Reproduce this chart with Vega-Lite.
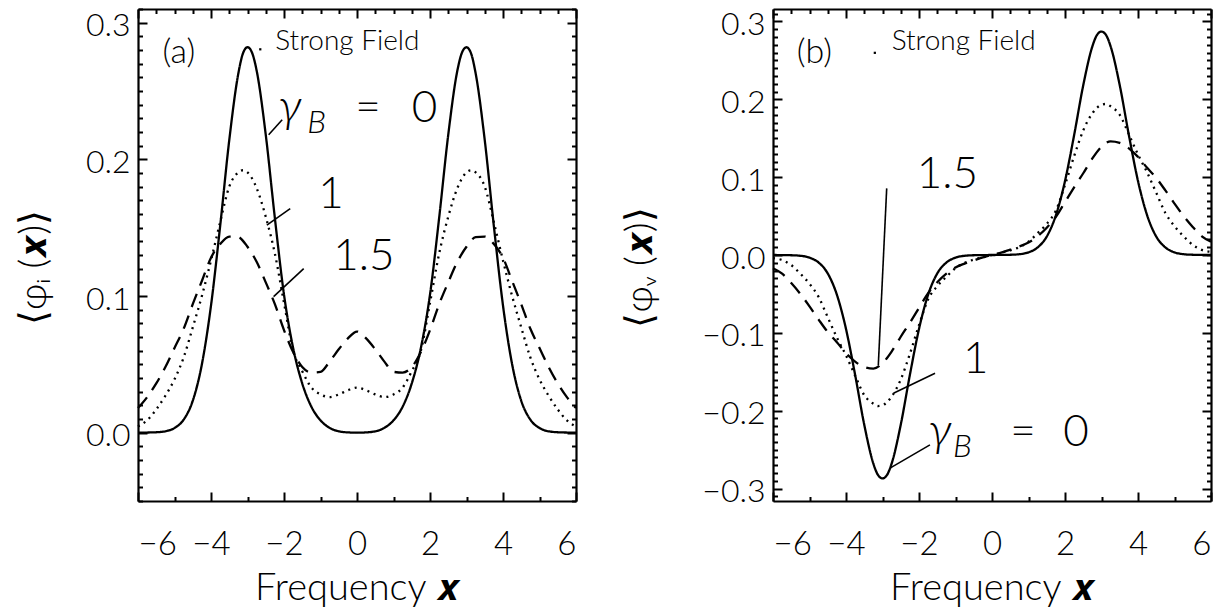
{
  "$schema": "https://vega.github.io/schema/vega-lite/v6.json",
  "padding": {"left": 15, "top": 8, "right": 5, "bottom": 0},
  "background": "white",
  "bounds": "flush",
  "spacing": 197,
  "config": {
    "font": "Lato",
    "view": {"stroke": null},
    "axis": {"grid": false, "domainColor": "black", "domainWidth": 2.2, "tickColor": "black", "tickWidth": 2, "labelColor": "black", "labelFont": "Lato", "labelFontSize": 31, "labelFontWeight": 300, "titleColor": "black", "titleFont": "Lato", "titleFontWeight": 300}
  },
  "datasets": {
    "a": [
      {"x":-6,"g":"0","v":0},{"x":-5.75,"g":"0","v":0.0001},{"x":-5.5,"g":"0","v":0.0003},{"x":-5.25,"g":"0","v":0.001},{"x":-5,"g":"0","v":0.0034},{"x":-4.75,"g":"0","v":0.0095},{"x":-4.5,"g":"0","v":0.0233},{"x":-4.25,"g":"0","v":0.05},{"x":-4,"g":"0","v":0.093},{"x":-3.75,"g":"0","v":0.151},{"x":-3.5,"g":"0","v":0.214},{"x":-3.25,"g":"0","v":0.263},{"x":-3.125,"g":"0","v":0.2775},{"x":-3,"g":"0","v":0.282},{"x":-2.875,"g":"0","v":0.278},{"x":-2.75,"g":"0","v":0.265},{"x":-2.5,"g":"0","v":0.218},{"x":-2.25,"g":"0","v":0.157},{"x":-2,"g":"0","v":0.101},{"x":-1.75,"g":"0","v":0.062},{"x":-1.5,"g":"0","v":0.036},{"x":-1.25,"g":"0","v":0.019},{"x":-1,"g":"0","v":0.009},{"x":-0.75,"g":"0","v":0.0035},{"x":-0.5,"g":"0","v":0.001},{"x":-0.25,"g":"0","v":0.0002},{"x":0,"g":"0","v":0},
      {"x":0.25,"g":"0","v":0.0002},{"x":0.5,"g":"0","v":0.001},{"x":0.75,"g":"0","v":0.0035},{"x":1,"g":"0","v":0.009},{"x":1.25,"g":"0","v":0.019},{"x":1.5,"g":"0","v":0.036},{"x":1.75,"g":"0","v":0.062},{"x":2,"g":"0","v":0.101},{"x":2.25,"g":"0","v":0.157},{"x":2.5,"g":"0","v":0.218},{"x":2.75,"g":"0","v":0.265},{"x":2.875,"g":"0","v":0.278},{"x":3,"g":"0","v":0.282},{"x":3.125,"g":"0","v":0.2775},{"x":3.25,"g":"0","v":0.263},{"x":3.5,"g":"0","v":0.214},{"x":3.75,"g":"0","v":0.151},{"x":4,"g":"0","v":0.093},{"x":4.25,"g":"0","v":0.05},{"x":4.5,"g":"0","v":0.0233},{"x":4.75,"g":"0","v":0.0095},{"x":5,"g":"0","v":0.0034},{"x":5.25,"g":"0","v":0.001},{"x":5.5,"g":"0","v":0.0003},{"x":5.75,"g":"0","v":0.0001},{"x":6,"g":"0","v":0},
      {"x":-6,"g":"1","v":0.0045},{"x":-5.75,"g":"1","v":0.009},{"x":-5.5,"g":"1","v":0.017},{"x":-5.25,"g":"1","v":0.027},{"x":-5,"g":"1","v":0.039},{"x":-4.75,"g":"1","v":0.055},{"x":-4.5,"g":"1","v":0.077},{"x":-4.25,"g":"1","v":0.1},{"x":-4,"g":"1","v":0.126},{"x":-3.75,"g":"1","v":0.154},{"x":-3.5,"g":"1","v":0.18},{"x":-3.25,"g":"1","v":0.1905},{"x":-3.125,"g":"1","v":0.192},{"x":-3,"g":"1","v":0.1905},{"x":-2.75,"g":"1","v":0.179},{"x":-2.5,"g":"1","v":0.158},{"x":-2.25,"g":"1","v":0.131},{"x":-2,"g":"1","v":0.095},{"x":-1.75,"g":"1","v":0.06},{"x":-1.5,"g":"1","v":0.045},{"x":-1.25,"g":"1","v":0.033},{"x":-1,"g":"1","v":0.028},{"x":-0.75,"g":"1","v":0.026},{"x":-0.5,"g":"1","v":0.028},{"x":-0.25,"g":"1","v":0.031},{"x":0,"g":"1","v":0.033},
      {"x":0.25,"g":"1","v":0.031},{"x":0.5,"g":"1","v":0.028},{"x":0.75,"g":"1","v":0.026},{"x":1,"g":"1","v":0.028},{"x":1.25,"g":"1","v":0.033},{"x":1.5,"g":"1","v":0.045},{"x":1.75,"g":"1","v":0.06},{"x":2,"g":"1","v":0.095},{"x":2.25,"g":"1","v":0.131},{"x":2.5,"g":"1","v":0.158},{"x":2.75,"g":"1","v":0.179},{"x":3,"g":"1","v":0.1905},{"x":3.125,"g":"1","v":0.192},{"x":3.25,"g":"1","v":0.1905},{"x":3.5,"g":"1","v":0.18},{"x":3.75,"g":"1","v":0.154},{"x":4,"g":"1","v":0.126},{"x":4.25,"g":"1","v":0.1},{"x":4.5,"g":"1","v":0.077},{"x":4.75,"g":"1","v":0.055},{"x":5,"g":"1","v":0.039},{"x":5.25,"g":"1","v":0.027},{"x":5.5,"g":"1","v":0.017},{"x":5.75,"g":"1","v":0.009},{"x":6,"g":"1","v":0.0045},
      {"x":-6,"g":"1.5","v":0.018},{"x":-5.75,"g":"1.5","v":0.026},{"x":-5.5,"g":"1.5","v":0.036},{"x":-5.25,"g":"1.5","v":0.048},{"x":-5,"g":"1.5","v":0.062},{"x":-4.75,"g":"1.5","v":0.076},{"x":-4.5,"g":"1.5","v":0.094},{"x":-4.25,"g":"1.5","v":0.111},{"x":-4,"g":"1.5","v":0.128},{"x":-3.75,"g":"1.5","v":0.138},{"x":-3.5,"g":"1.5","v":0.1435},{"x":-3.25,"g":"1.5","v":0.143},{"x":-3,"g":"1.5","v":0.136},{"x":-2.75,"g":"1.5","v":0.125},{"x":-2.5,"g":"1.5","v":0.11},{"x":-2.25,"g":"1.5","v":0.094},{"x":-2,"g":"1.5","v":0.075},{"x":-1.75,"g":"1.5","v":0.059},{"x":-1.5,"g":"1.5","v":0.048},{"x":-1.25,"g":"1.5","v":0.044},{"x":-1,"g":"1.5","v":0.0445},{"x":-0.75,"g":"1.5","v":0.052},{"x":-0.5,"g":"1.5","v":0.061},{"x":-0.25,"g":"1.5","v":0.069},{"x":0,"g":"1.5","v":0.074},
      {"x":0.25,"g":"1.5","v":0.069},{"x":0.5,"g":"1.5","v":0.061},{"x":0.75,"g":"1.5","v":0.052},{"x":1,"g":"1.5","v":0.0445},{"x":1.25,"g":"1.5","v":0.044},{"x":1.5,"g":"1.5","v":0.048},{"x":1.75,"g":"1.5","v":0.059},{"x":2,"g":"1.5","v":0.075},{"x":2.25,"g":"1.5","v":0.094},{"x":2.5,"g":"1.5","v":0.11},{"x":2.75,"g":"1.5","v":0.125},{"x":3,"g":"1.5","v":0.136},{"x":3.25,"g":"1.5","v":0.143},{"x":3.5,"g":"1.5","v":0.1435},{"x":3.75,"g":"1.5","v":0.138},{"x":4,"g":"1.5","v":0.128},{"x":4.25,"g":"1.5","v":0.111},{"x":4.5,"g":"1.5","v":0.094},{"x":4.75,"g":"1.5","v":0.076},{"x":5,"g":"1.5","v":0.062},{"x":5.25,"g":"1.5","v":0.048},{"x":5.5,"g":"1.5","v":0.036},{"x":5.75,"g":"1.5","v":0.026},{"x":6,"g":"1.5","v":0.018}
    ],
    "b": [
      {"x":-6,"g":"0","v":0},{"x":-5.75,"g":"0","v":-0.0001},{"x":-5.5,"g":"0","v":-0.0003},{"x":-5.25,"g":"0","v":-0.001},{"x":-5,"g":"0","v":-0.0034},{"x":-4.75,"g":"0","v":-0.0097},{"x":-4.5,"g":"0","v":-0.0237},{"x":-4.25,"g":"0","v":-0.051},{"x":-4,"g":"0","v":-0.095},{"x":-3.75,"g":"0","v":-0.154},{"x":-3.5,"g":"0","v":-0.218},{"x":-3.25,"g":"0","v":-0.268},{"x":-3.125,"g":"0","v":-0.2825},{"x":-3,"g":"0","v":-0.287},{"x":-2.875,"g":"0","v":-0.2825},{"x":-2.75,"g":"0","v":-0.268},{"x":-2.5,"g":"0","v":-0.218},{"x":-2.25,"g":"0","v":-0.154},{"x":-2,"g":"0","v":-0.095},{"x":-1.75,"g":"0","v":-0.051},{"x":-1.5,"g":"0","v":-0.0237},{"x":-1.25,"g":"0","v":-0.0097},{"x":-1,"g":"0","v":-0.0034},{"x":-0.75,"g":"0","v":-0.001},{"x":-0.5,"g":"0","v":-0.0003},{"x":-0.25,"g":"0","v":-0.0001},{"x":0,"g":"0","v":0},
      {"x":0.25,"g":"0","v":0.0001},{"x":0.5,"g":"0","v":0.0003},{"x":0.75,"g":"0","v":0.001},{"x":1,"g":"0","v":0.0034},{"x":1.25,"g":"0","v":0.0097},{"x":1.5,"g":"0","v":0.0237},{"x":1.75,"g":"0","v":0.051},{"x":2,"g":"0","v":0.095},{"x":2.25,"g":"0","v":0.154},{"x":2.5,"g":"0","v":0.218},{"x":2.75,"g":"0","v":0.268},{"x":2.875,"g":"0","v":0.2825},{"x":3,"g":"0","v":0.287},{"x":3.125,"g":"0","v":0.2825},{"x":3.25,"g":"0","v":0.268},{"x":3.5,"g":"0","v":0.218},{"x":3.75,"g":"0","v":0.154},{"x":4,"g":"0","v":0.095},{"x":4.25,"g":"0","v":0.051},{"x":4.5,"g":"0","v":0.0237},{"x":4.75,"g":"0","v":0.0097},{"x":5,"g":"0","v":0.0034},{"x":5.25,"g":"0","v":0.001},{"x":5.5,"g":"0","v":0.0003},{"x":5.75,"g":"0","v":0.0001},{"x":6,"g":"0","v":0},
      {"x":-6,"g":"1","v":-0.004},{"x":-5.75,"g":"1","v":-0.0065},{"x":-5.5,"g":"1","v":-0.013},{"x":-5.25,"g":"1","v":-0.024},{"x":-5,"g":"1","v":-0.037},{"x":-4.75,"g":"1","v":-0.054},{"x":-4.5,"g":"1","v":-0.08},{"x":-4.25,"g":"1","v":-0.106},{"x":-4,"g":"1","v":-0.129},{"x":-3.75,"g":"1","v":-0.155},{"x":-3.5,"g":"1","v":-0.18},{"x":-3.25,"g":"1","v":-0.191},{"x":-3.125,"g":"1","v":-0.194},{"x":-3,"g":"1","v":-0.193},{"x":-2.75,"g":"1","v":-0.182},{"x":-2.5,"g":"1","v":-0.16},{"x":-2.25,"g":"1","v":-0.127},{"x":-2,"g":"1","v":-0.09},{"x":-1.75,"g":"1","v":-0.057},{"x":-1.5,"g":"1","v":-0.04},{"x":-1.25,"g":"1","v":-0.028},{"x":-1,"g":"1","v":-0.017},{"x":-0.75,"g":"1","v":-0.01},{"x":-0.5,"g":"1","v":-0.006},{"x":-0.25,"g":"1","v":-0.003},{"x":0,"g":"1","v":0},
      {"x":0.25,"g":"1","v":0.003},{"x":0.5,"g":"1","v":0.006},{"x":0.75,"g":"1","v":0.01},{"x":1,"g":"1","v":0.017},{"x":1.25,"g":"1","v":0.028},{"x":1.5,"g":"1","v":0.04},{"x":1.75,"g":"1","v":0.057},{"x":2,"g":"1","v":0.09},{"x":2.25,"g":"1","v":0.127},{"x":2.5,"g":"1","v":0.16},{"x":2.75,"g":"1","v":0.182},{"x":3,"g":"1","v":0.193},{"x":3.125,"g":"1","v":0.194},{"x":3.25,"g":"1","v":0.191},{"x":3.5,"g":"1","v":0.18},{"x":3.75,"g":"1","v":0.155},{"x":4,"g":"1","v":0.129},{"x":4.25,"g":"1","v":0.106},{"x":4.5,"g":"1","v":0.08},{"x":4.75,"g":"1","v":0.054},{"x":5,"g":"1","v":0.037},{"x":5.25,"g":"1","v":0.024},{"x":5.5,"g":"1","v":0.013},{"x":5.75,"g":"1","v":0.0065},{"x":6,"g":"1","v":0.004},
      {"x":-6,"g":"1.5","v":-0.017},{"x":-5.75,"g":"1.5","v":-0.024},{"x":-5.5,"g":"1.5","v":-0.036},{"x":-5.25,"g":"1.5","v":-0.05},{"x":-5,"g":"1.5","v":-0.066},{"x":-4.75,"g":"1.5","v":-0.083},{"x":-4.5,"g":"1.5","v":-0.099},{"x":-4.25,"g":"1.5","v":-0.112},{"x":-4,"g":"1.5","v":-0.126},{"x":-3.75,"g":"1.5","v":-0.137},{"x":-3.5,"g":"1.5","v":-0.144},{"x":-3.25,"g":"1.5","v":-0.146},{"x":-3,"g":"1.5","v":-0.139},{"x":-2.75,"g":"1.5","v":-0.124},{"x":-2.5,"g":"1.5","v":-0.105},{"x":-2.25,"g":"1.5","v":-0.087},{"x":-2,"g":"1.5","v":-0.068},{"x":-1.75,"g":"1.5","v":-0.049},{"x":-1.5,"g":"1.5","v":-0.035},{"x":-1.25,"g":"1.5","v":-0.024},{"x":-1,"g":"1.5","v":-0.016},{"x":-0.75,"g":"1.5","v":-0.011},{"x":-0.5,"g":"1.5","v":-0.007},{"x":-0.25,"g":"1.5","v":-0.003},{"x":0,"g":"1.5","v":0},
      {"x":0.25,"g":"1.5","v":0.003},{"x":0.5,"g":"1.5","v":0.007},{"x":0.75,"g":"1.5","v":0.011},{"x":1,"g":"1.5","v":0.016},{"x":1.25,"g":"1.5","v":0.024},{"x":1.5,"g":"1.5","v":0.035},{"x":1.75,"g":"1.5","v":0.049},{"x":2,"g":"1.5","v":0.068},{"x":2.25,"g":"1.5","v":0.087},{"x":2.5,"g":"1.5","v":0.105},{"x":2.75,"g":"1.5","v":0.124},{"x":3,"g":"1.5","v":0.139},{"x":3.25,"g":"1.5","v":0.146},{"x":3.5,"g":"1.5","v":0.144},{"x":3.75,"g":"1.5","v":0.137},{"x":4,"g":"1.5","v":0.126},{"x":4.25,"g":"1.5","v":0.112},{"x":4.5,"g":"1.5","v":0.099},{"x":4.75,"g":"1.5","v":0.083},{"x":5,"g":"1.5","v":0.066},{"x":5.25,"g":"1.5","v":0.05},{"x":5.5,"g":"1.5","v":0.036},{"x":5.75,"g":"1.5","v":0.024},{"x":6,"g":"1.5","v":0.017}
    ]
  },
  "hconcat": [
    {
      "width": 438, "height": 492,
      "resolve": {"axis": {"x": "independent", "y": "independent"}},
      "layer": [
        {
          "data": {"name": "a"},
          "mark": {"type": "line", "interpolate": "monotone", "strokeWidth": 2.3, "color": "black"},
          "encoding": {
            "x": {"field": "x", "type": "quantitative", "scale": {"domain": [-6, 6], "nice": false, "zero": false},
              "axis": {"orient": "bottom", "values": [-6,-5.5,-5,-4.5,-4,-3.5,-3,-2.5,-2,-1.5,-1,-0.5,0,0.5,1,1.5,2,2.5,3,3.5,4,4.5,5,5.5,6],
                "tickSize": {"condition": {"test": "abs(datum.value % 2) < 0.001", "value": -9}, "value": -4.5},
                "labelExpr": "abs(datum.value % 2) < 0.001 ? datum.label : ''", "format": "d", "labelPadding": 36, "labelFontSize": 33,
                "title": "Frequency 𝒙", "titleFontSize": 38, "titlePadding": 8}},
            "y": {"field": "v", "type": "quantitative", "scale": {"domain": [-0.05, 0.31], "nice": false, "zero": false},
              "axis": {"orient": "left", "values": [-0.05,-0.04,-0.03,-0.02,-0.01,0,0.01,0.02,0.03,0.04,0.05,0.06,0.07,0.08,0.09,0.1,0.11,0.12,0.13,0.14,0.15,0.16,0.17,0.18,0.19,0.2,0.21,0.22,0.23,0.24,0.25,0.26,0.27,0.28,0.29,0.3,0.31],
                "tickSize": {"condition": {"test": "abs(datum.value*10 - round(datum.value*10)) < 0.001", "value": -9}, "value": -4.5},
                "labelExpr": "abs(datum.value*10 - round(datum.value*10)) < 0.001 ? datum.label : ''", "format": ".1f", "labelPadding": 17, "labelOffset": 3, "labelFontSize": 32,
                "title": "⟨φᵢ (𝒙)⟩", "titleFontSize": 38, "titlePadding": 32, "titleY": 258}},
            "strokeDash": {"field": "g", "type": "nominal", "scale": {"domain": ["0", "1", "1.5"], "range": [[1, 0], [2, 4.7], [14, 9]]}, "legend": null}
          }
        },
        {
          "data": {"values": [
            {"x1": -2.42, "y1": 0.218, "x2": -2.05, "y2": 0.229},
            {"x1": -2.47, "y1": 0.1518, "x2": -1.83, "y2": 0.164},
            {"x1": -2.285, "y1": 0.0995, "x2": -1.46, "y2": 0.12}
          ]},
          "mark": {"type": "rule", "strokeWidth": 1.6, "color": "black"},
          "encoding": {
            "x": {"field": "x1", "type": "quantitative", "scale": {"domain": [-6, 6], "nice": false, "zero": false},
              "axis": {"orient": "top", "values": [-6,-5.5,-5,-4.5,-4,-3.5,-3,-2.5,-2,-1.5,-1,-0.5,0,0.5,1,1.5,2,2.5,3,3.5,4,4.5,5,5.5,6],
                "tickSize": {"condition": {"test": "abs(datum.value % 2) < 0.001", "value": -9}, "value": -4.5}, "labels": false, "title": null}},
            "y": {"field": "y1", "type": "quantitative", "scale": {"domain": [-0.05, 0.31], "nice": false, "zero": false},
              "axis": {"orient": "right", "values": [-0.05,-0.04,-0.03,-0.02,-0.01,0,0.01,0.02,0.03,0.04,0.05,0.06,0.07,0.08,0.09,0.1,0.11,0.12,0.13,0.14,0.15,0.16,0.17,0.18,0.19,0.2,0.21,0.22,0.23,0.24,0.25,0.26,0.27,0.28,0.29,0.3,0.31],
                "tickSize": {"condition": {"test": "abs(datum.value*10 - round(datum.value*10)) < 0.001", "value": -9}, "value": -4.5}, "labels": false, "title": null}},
            "x2": {"field": "x2"}, "y2": {"field": "y2"}
          }
        },
        {
          "data": {"values": [{"x": -2.65, "y": 0.2805}]},
          "mark": {"type": "square", "size": 5, "color": "black", "opacity": 1},
          "encoding": {
            "x": {"field": "x", "type": "quantitative", "scale": {"domain": [-6, 6], "nice": false, "zero": false}, "axis": null},
            "y": {"field": "y", "type": "quantitative", "scale": {"domain": [-0.05, 0.31], "nice": false, "zero": false}, "axis": null}
          }
        },
        {
          "data": {"values": [{"x": -2.24, "y": 0.28, "t": "Strong Field"}]},
          "mark": {"type": "text", "align": "left", "baseline": "alphabetic", "fontSize": 28, "font": "Lato", "fontWeight": 300, "color": "black"},
          "encoding": {
            "x": {"field": "x", "type": "quantitative", "scale": {"domain": [-6, 6], "nice": false, "zero": false}, "axis": null},
            "y": {"field": "y", "type": "quantitative", "scale": {"domain": [-0.05, 0.31], "nice": false, "zero": false}, "axis": null},
            "text": {"field": "t"}
          }
        },
        {
          "data": {"values": [{"x": -5.33, "y": 0.2705, "t": "(a)"}]},
          "mark": {"type": "text", "align": "left", "baseline": "alphabetic", "fontSize": 34, "font": "Lato", "fontWeight": 300, "color": "black"},
          "encoding": {
            "x": {"field": "x", "type": "quantitative", "scale": {"domain": [-6, 6], "nice": false, "zero": false}, "axis": null},
            "y": {"field": "y", "type": "quantitative", "scale": {"domain": [-0.05, 0.31], "nice": false, "zero": false}, "axis": null},
            "text": {"field": "t"}
          }
        },
        {
          "data": {"values": [{"x": -0.05, "y": 0.2273, "t": "="}, {"x": 1.5, "y": 0.2273, "t": "0"}, {"x": -1.06, "y": 0.1644, "t": "1"}, {"x": -0.65, "y": 0.119, "t": "1.5"}]},
          "mark": {"type": "text", "align": "left", "baseline": "alphabetic", "fontSize": 44, "font": "Lato", "fontWeight": 300, "color": "black"},
          "encoding": {
            "x": {"field": "x", "type": "quantitative", "scale": {"domain": [-6, 6], "nice": false, "zero": false}, "axis": null},
            "y": {"field": "y", "type": "quantitative", "scale": {"domain": [-0.05, 0.31], "nice": false, "zero": false}, "axis": null},
            "text": {"field": "t"}
          }
        },
        {
          "data": {"values": [{"x": -2.16, "y": 0.2273, "t": "γ"}]},
          "mark": {"type": "text", "align": "left", "baseline": "alphabetic", "fontSize": 48, "font": "Lato", "fontStyle": "italic", "fontWeight": 300, "color": "black"},
          "encoding": {
            "x": {"field": "x", "type": "quantitative", "scale": {"domain": [-6, 6], "nice": false, "zero": false}, "axis": null},
            "y": {"field": "y", "type": "quantitative", "scale": {"domain": [-0.05, 0.31], "nice": false, "zero": false}, "axis": null},
            "text": {"field": "t"}
          }
        },
        {
          "data": {"values": [{"x": -1.36, "y": 0.2192, "t": "B"}]},
          "mark": {"type": "text", "align": "left", "baseline": "alphabetic", "fontSize": 32, "font": "Lato", "fontStyle": "italic", "fontWeight": 300, "color": "black"},
          "encoding": {
            "x": {"field": "x", "type": "quantitative", "scale": {"domain": [-6, 6], "nice": false, "zero": false}, "axis": null},
            "y": {"field": "y", "type": "quantitative", "scale": {"domain": [-0.05, 0.31], "nice": false, "zero": false}, "axis": null},
            "text": {"field": "t"}
          }
        }
      ]
    },
    {
      "width": 438, "height": 492,
      "resolve": {"axis": {"x": "independent", "y": "independent"}},
      "layer": [
        {
          "data": {"name": "b"},
          "mark": {"type": "line", "interpolate": "monotone", "strokeWidth": 2.3, "color": "black"},
          "encoding": {
            "x": {"field": "x", "type": "quantitative", "scale": {"domain": [-6, 6], "nice": false, "zero": false},
              "axis": {"orient": "bottom", "values": [-6,-5.5,-5,-4.5,-4,-3.5,-3,-2.5,-2,-1.5,-1,-0.5,0,0.5,1,1.5,2,2.5,3,3.5,4,4.5,5,5.5,6],
                "tickSize": {"condition": {"test": "abs(datum.value % 2) < 0.001", "value": -9}, "value": -4.5},
                "labelExpr": "abs(datum.value % 2) < 0.001 ? datum.label : ''", "format": "d", "labelPadding": 36, "labelFontSize": 33,
                "title": "Frequency 𝒙", "titleFontSize": 38, "titlePadding": 8}},
            "y": {"field": "v", "type": "quantitative", "scale": {"domain": [-0.316, 0.316], "nice": false, "zero": false},
              "axis": {"orient": "left", "values": [-0.31,-0.3,-0.29,-0.28,-0.27,-0.26,-0.25,-0.24,-0.23,-0.22,-0.21,-0.2,-0.19,-0.18,-0.17,-0.16,-0.15,-0.14,-0.13,-0.12,-0.11,-0.1,-0.09,-0.08,-0.07,-0.06,-0.05,-0.04,-0.03,-0.02,-0.01,0,0.01,0.02,0.03,0.04,0.05,0.06,0.07,0.08,0.09,0.1,0.11,0.12,0.13,0.14,0.15,0.16,0.17,0.18,0.19,0.2,0.21,0.22,0.23,0.24,0.25,0.26,0.27,0.28,0.29,0.3,0.31],
                "tickSize": {"condition": {"test": "abs(datum.value*10 - round(datum.value*10)) < 0.001", "value": -9}, "value": -4.5},
                "labelExpr": "abs(datum.value*10 - round(datum.value*10)) < 0.001 ? datum.label : ''", "format": ".1f", "labelPadding": 17, "labelOffset": 3, "labelFontSize": 32,
                "title": "⟨φᵥ (𝒙)⟩", "titleFontSize": 38, "titlePadding": 42, "titleY": 258}},
            "strokeDash": {"field": "g", "type": "nominal", "scale": {"domain": ["0", "1", "1.5"], "range": [[1, 0], [2, 4.7], [14, 9]]}, "legend": null}
          }
        },
        {
          "data": {"values": [
            {"x1": -2.885, "y1": 0.0856, "x2": -3.115, "y2": -0.1416},
            {"x1": -2.7, "y1": -0.1776, "x2": -1.56, "y2": -0.1519},
            {"x1": -2.795, "y1": -0.2738, "x2": -1.7, "y2": -0.2439}
          ]},
          "mark": {"type": "rule", "strokeWidth": 1.6, "color": "black"},
          "encoding": {
            "x": {"field": "x1", "type": "quantitative", "scale": {"domain": [-6, 6], "nice": false, "zero": false},
              "axis": {"orient": "top", "values": [-6,-5.5,-5,-4.5,-4,-3.5,-3,-2.5,-2,-1.5,-1,-0.5,0,0.5,1,1.5,2,2.5,3,3.5,4,4.5,5,5.5,6],
                "tickSize": {"condition": {"test": "abs(datum.value % 2) < 0.001", "value": -9}, "value": -4.5}, "labels": false, "title": null}},
            "y": {"field": "y1", "type": "quantitative", "scale": {"domain": [-0.316, 0.316], "nice": false, "zero": false},
              "axis": {"orient": "right", "values": [-0.31,-0.3,-0.29,-0.28,-0.27,-0.26,-0.25,-0.24,-0.23,-0.22,-0.21,-0.2,-0.19,-0.18,-0.17,-0.16,-0.15,-0.14,-0.13,-0.12,-0.11,-0.1,-0.09,-0.08,-0.07,-0.06,-0.05,-0.04,-0.03,-0.02,-0.01,0,0.01,0.02,0.03,0.04,0.05,0.06,0.07,0.08,0.09,0.1,0.11,0.12,0.13,0.14,0.15,0.16,0.17,0.18,0.19,0.2,0.21,0.22,0.23,0.24,0.25,0.26,0.27,0.28,0.29,0.3,0.31],
                "tickSize": {"condition": {"test": "abs(datum.value*10 - round(datum.value*10)) < 0.001", "value": -9}, "value": -4.5}, "labels": false, "title": null}},
            "x2": {"field": "x2"}, "y2": {"field": "y2"}
          }
        },
        {
          "data": {"values": [{"x": -3.21, "y": 0.2597}]},
          "mark": {"type": "square", "size": 5, "color": "black", "opacity": 1},
          "encoding": {
            "x": {"field": "x", "type": "quantitative", "scale": {"domain": [-6, 6], "nice": false, "zero": false}, "axis": null},
            "y": {"field": "y", "type": "quantitative", "scale": {"domain": [-0.316, 0.316], "nice": false, "zero": false}, "axis": null}
          }
        },
        {
          "data": {"values": [{"x": -2.75, "y": 0.263, "t": "Strong Field"}]},
          "mark": {"type": "text", "align": "left", "baseline": "alphabetic", "fontSize": 28, "font": "Lato", "fontWeight": 300, "color": "black"},
          "encoding": {
            "x": {"field": "x", "type": "quantitative", "scale": {"domain": [-6, 6], "nice": false, "zero": false}, "axis": null},
            "y": {"field": "y", "type": "quantitative", "scale": {"domain": [-0.316, 0.316], "nice": false, "zero": false}, "axis": null},
            "text": {"field": "t"}
          }
        },
        {
          "data": {"values": [{"x": -5.35, "y": 0.2465, "t": "(b)"}]},
          "mark": {"type": "text", "align": "left", "baseline": "alphabetic", "fontSize": 34, "font": "Lato", "fontWeight": 300, "color": "black"},
          "encoding": {
            "x": {"field": "x", "type": "quantitative", "scale": {"domain": [-6, 6], "nice": false, "zero": false}, "axis": null},
            "y": {"field": "y", "type": "quantitative", "scale": {"domain": [-0.316, 0.316], "nice": false, "zero": false}, "axis": null},
            "text": {"field": "t"}
          }
        },
        {
          "data": {"values": [{"x": 0.5, "y": -0.2448, "t": "="}, {"x": 1.95, "y": -0.2448, "t": "0"}, {"x": -0.795, "y": -0.1519, "t": "1"}, {"x": -2.06, "y": 0.0856, "t": "1.5"}]},
          "mark": {"type": "text", "align": "left", "baseline": "alphabetic", "fontSize": 44, "font": "Lato", "fontWeight": 300, "color": "black"},
          "encoding": {
            "x": {"field": "x", "type": "quantitative", "scale": {"domain": [-6, 6], "nice": false, "zero": false}, "axis": null},
            "y": {"field": "y", "type": "quantitative", "scale": {"domain": [-0.316, 0.316], "nice": false, "zero": false}, "axis": null},
            "text": {"field": "t"}
          }
        },
        {
          "data": {"values": [{"x": -1.75, "y": -0.2448, "t": "γ"}]},
          "mark": {"type": "text", "align": "left", "baseline": "alphabetic", "fontSize": 48, "font": "Lato", "fontStyle": "italic", "fontWeight": 300, "color": "black"},
          "encoding": {
            "x": {"field": "x", "type": "quantitative", "scale": {"domain": [-6, 6], "nice": false, "zero": false}, "axis": null},
            "y": {"field": "y", "type": "quantitative", "scale": {"domain": [-0.316, 0.316], "nice": false, "zero": false}, "axis": null},
            "text": {"field": "t"}
          }
        },
        {
          "data": {"values": [{"x": -1.07, "y": -0.2593, "t": "B"}]},
          "mark": {"type": "text", "align": "left", "baseline": "alphabetic", "fontSize": 32, "font": "Lato", "fontStyle": "italic", "fontWeight": 300, "color": "black"},
          "encoding": {
            "x": {"field": "x", "type": "quantitative", "scale": {"domain": [-6, 6], "nice": false, "zero": false}, "axis": null},
            "y": {"field": "y", "type": "quantitative", "scale": {"domain": [-0.316, 0.316], "nice": false, "zero": false}, "axis": null},
            "text": {"field": "t"}
          }
        }
      ]
    }
  ]
}
